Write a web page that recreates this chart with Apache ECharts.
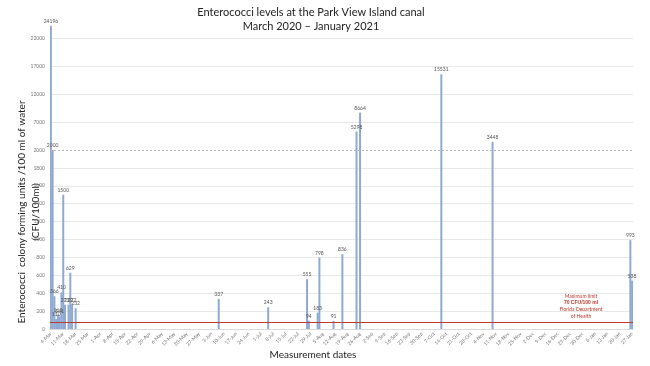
<!DOCTYPE html>
<html>
<head>
<meta charset="utf-8">
<script src="https://cdn.jsdelivr.net/npm/echarts@6/dist/echarts.min.js"></script>
<style>
  html, body { margin: 0; padding: 0; background: #fff; }
  #chart { width: 650px; height: 366px; }
</style>
</head>
<body>
<div id="chart"></div>
<script>
// daily category axis, one label per week
const dayCount = 330

// sample dates and measured values (CFU/100ml)
const sampleDates = [
  '2020-03-04', '2020-03-05', '2020-03-06', '2020-03-07', '2020-03-08', '2020-03-09',
  '2020-03-10', '2020-03-11', '2020-03-12', '2020-03-14', '2020-03-15', '2020-03-16',
  '2020-03-18', '2020-06-07', '2020-07-05', '2020-07-27', '2020-07-28', '2020-08-02',
  '2020-08-03', '2020-08-11', '2020-08-16', '2020-08-24', '2020-08-26', '2020-10-11',
  '2020-11-09', '2021-01-26', '2021-01-27'
]
const sampleValues = [
  24196, 2000, 366, 110, 161, 141,
  410, 1500, 271, 272, 629, 272,
  232, 337, 243, 555, 94, 183,
  798, 91, 836, 5298, 8664, 15531,
  3448, 993, 538
]

const limitValue = 70
const breakValue = 2000
const lowTicks = 200
const highTicks = 5000

const monthNames = ['Jan', 'Feb', 'Mar', 'Apr', 'May', 'Jun', 'Jul', 'Aug', 'Sep', 'Oct', 'Nov', 'Dec']

const days = []
const dayKeys = []
const t0 = Date.UTC(2020, 2, 4)
for (let i = 0; i < dayCount; i++) {
  const d = new Date(t0 + i * 86400000)
  dayKeys.push(d.toISOString().slice(0, 10))
  days.push(d.getUTCDate() + '-' + monthNames[d.getUTCMonth()])
}

const seriesData = dayKeys.map(k => {
  const idx = sampleDates.indexOf(k)
  return idx >= 0 ? sampleValues[idx] : '-'
})

const barColor = '#8eaad3'
const labelStyle = { fontSize: 5, color: '#555', fontFamily: 'Lato', distance: 2 }
const tickLabel = { fontSize: 5, color: '#777', margin: 5, formatter: v => String(v) }

const chart = echarts.init(document.getElementById('chart'))

const option = {
  animation: false,
  backgroundColor: '#fff',
  textStyle: { fontFamily: 'Lato' },
  grid: [
    { left: 50, right: 17, top: 23, height: 127 },
    { left: 50, right: 17, top: 150, height: 179 }
  ],
  xAxis: [
    {
      type: 'category', gridIndex: 0, data: days, show: false
    },
    {
      type: 'category', gridIndex: 1, data: days,
      axisLine: { lineStyle: { color: '#d9d9d9' } },
      axisTick: { show: false },
      axisLabel: { interval: 6, rotate: 45, fontSize: 5, color: '#777', margin: 4 }
    }
  ],
  yAxis: [
    {
      type: 'value', gridIndex: 0, min: breakValue, max: 24700, interval: highTicks,
      axisLine: { show: false }, axisTick: { show: false },
      axisLabel: { ...tickLabel, showMinLabel: false, showMaxLabel: false },
      splitLine: { lineStyle: { color: '#e8e8e8' }, showMinLine: false, showMaxLine: false }
    },
    {
      type: 'value', gridIndex: 1, min: 0, max: breakValue, interval: lowTicks,
      axisLine: { show: false }, axisTick: { show: false },
      axisLabel: tickLabel,
      splitLine: { lineStyle: { color: '#e8e8e8' }, showMaxLine: false }
    }
  ],
  series: [
    {
      type: 'bar', xAxisIndex: 0, yAxisIndex: 0, data: seriesData,
      barWidth: 2, clip: true,
      itemStyle: { color: barColor },
      label: {
        show: true, position: 'top', ...labelStyle,
        formatter: p => (p.value > breakValue ? String(p.value) : '')
      }
    },
    {
      type: 'bar', xAxisIndex: 1, yAxisIndex: 1, data: seriesData,
      barWidth: 2, clip: true,
      itemStyle: { color: barColor },
      label: {
        show: true, position: 'top', ...labelStyle,
        formatter: p => (p.value <= breakValue ? String(p.value) : '')
      },
      markLine: {
        silent: true, symbol: 'none', label: { show: false },
        data: [
          { yAxis: limitValue, lineStyle: { color: '#c0392b', width: 1, type: 'solid' } },
          { yAxis: breakValue, lineStyle: { color: '#b5b5b5', width: 1, type: [2, 2] } }
        ]
      }
    }
  ],
  graphic: [
    {
      type: 'text', x: 311, y: 5,
      style: {
        text: 'Enterococci levels at the Park View Island canal\nMarch 2020 – January 2021',
        fontSize: 11, fill: '#222', fontFamily: 'Lato', align: 'center', lineHeight: 14
      }
    },
    {
      type: 'text', x: 29, y: 212, rotation: Math.PI / 2,
      style: {
        text: 'Enterococci  colony forming units /100 ml of water\n(CFU/100ml)',
        fontSize: 10, fill: '#222', fontFamily: 'Lato', align: 'center', verticalAlign: 'middle', lineHeight: 14
      }
    },
    {
      type: 'text', x: 313, y: 350,
      style: { text: 'Measurement dates', fontSize: 10, fill: '#222', fontFamily: 'Lato', align: 'center' }
    },
    {
      type: 'text', x: 581, y: 293,
      style: {
        text: 'Maximum limit\n{b|70 CFU/100 ml}\nFlorida Department\nof Health',
        fontSize: 5, fill: '#c0392b', fontFamily: 'Lato', align: 'center', lineHeight: 6.7,
        rich: { b: { fontWeight: 'bold', fontSize: 5, fill: '#c0392b' } }
      }
    }
  ]
}

chart.setOption(option)
</script>
</body>
</html>
